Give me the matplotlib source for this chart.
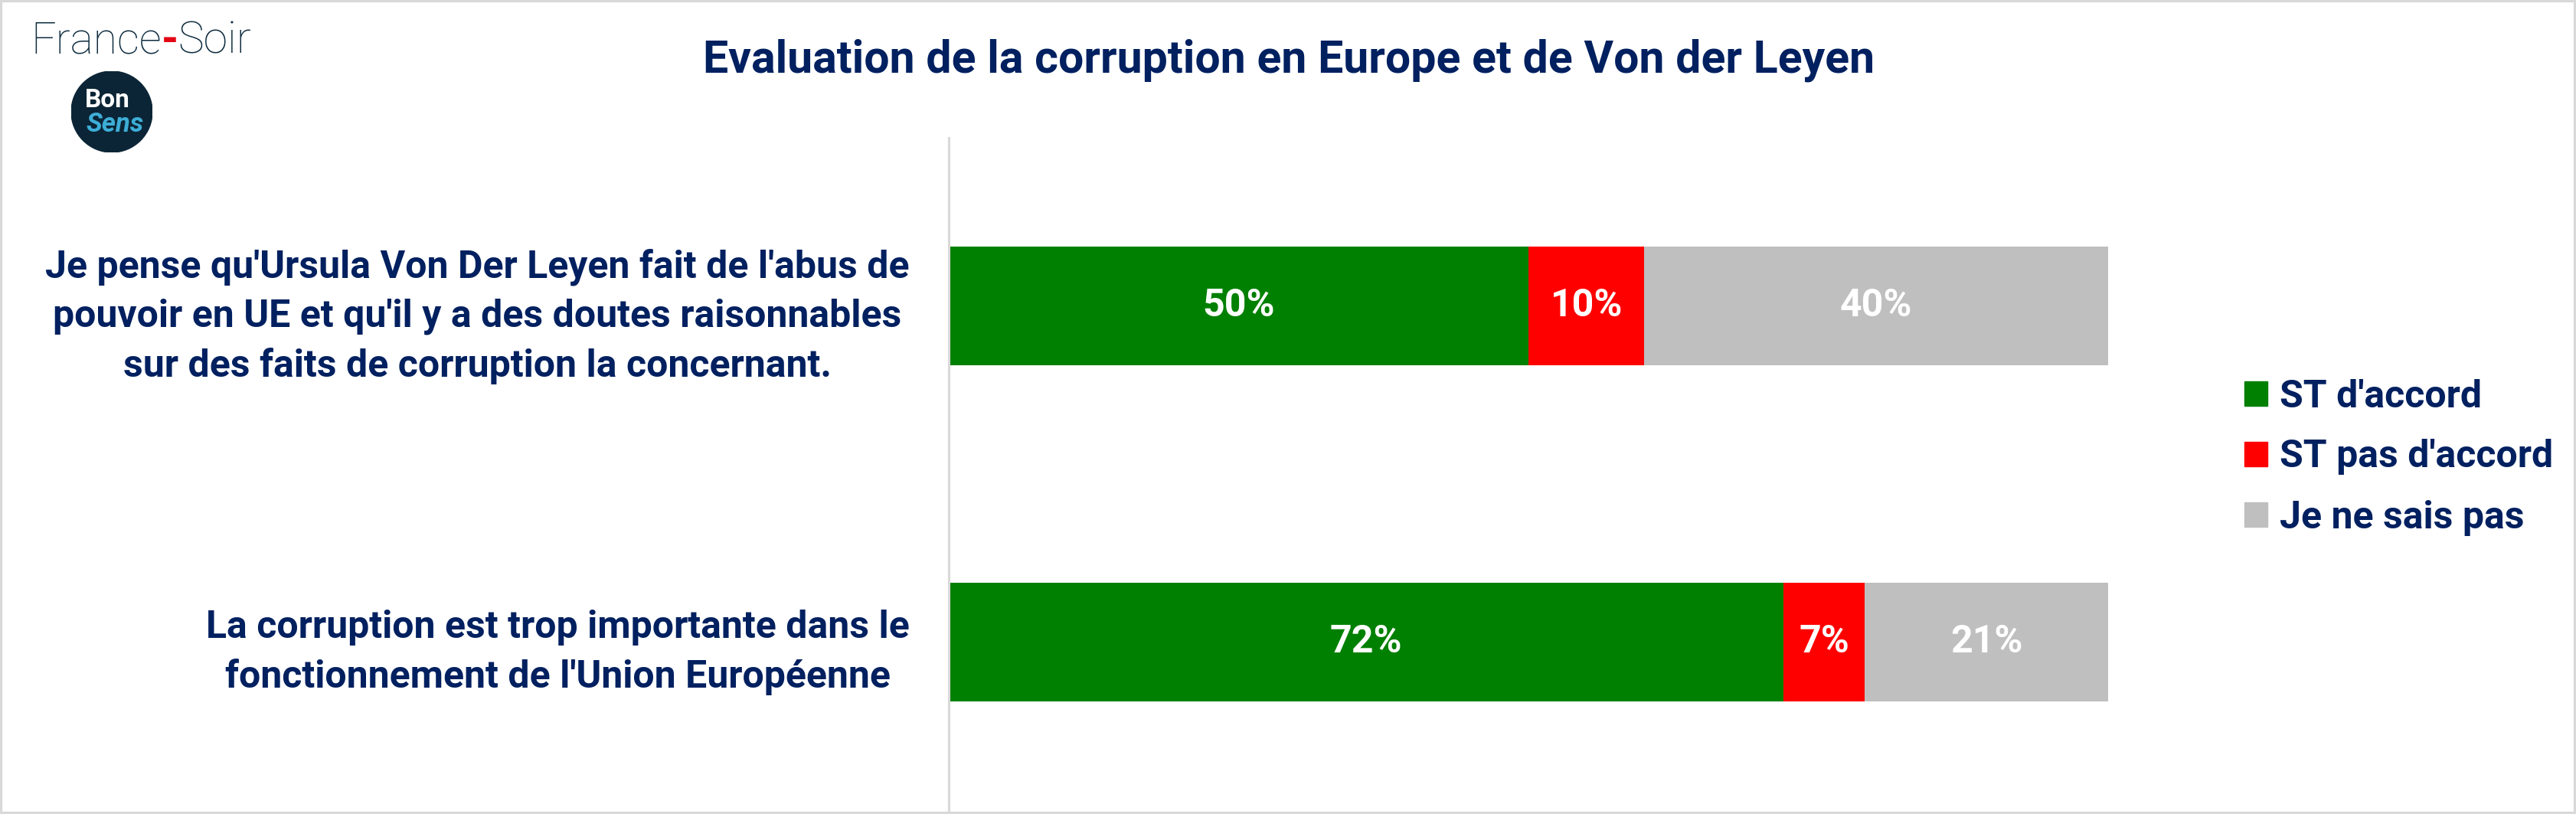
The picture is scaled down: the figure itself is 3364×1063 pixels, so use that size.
import matplotlib
matplotlib.use("Agg")
import matplotlib.pyplot as plt
from matplotlib.patches import Patch, Rectangle, Circle

# data
questions = [
    "Je pense qu'Ursula Von Der Leyen fait de l'abus de\npouvoir en UE et qu'il y a des doutes raisonnables\nsur des faits de corruption la concernant.",
    "La corruption est trop importante dans le\nfonctionnement de l'Union Européenne",
]
series = ["ST d'accord", "ST pas d'accord", "Je ne sais pas"]
agree = [0.50, 0.72]
disagree = [0.10, 0.07]
dont_know = [0.40, 0.21]

colors = ["#008000", "#FF0000", "#BFBFBF"]
navy = "#002060"
W, H = 3364, 1063

plt.rcParams["font.family"] = ["Roboto", "DejaVu Sans"]

fig = plt.figure(figsize=(W / 100, H / 100), dpi=100)
fig.patch.set_facecolor("white")

ax = fig.add_axes([1239 / W, 1 - 1058 / H, (2753 - 1239) / W, (1058 - 180) / H])

ypos = list(range(len(questions)))
left = [0.0] * len(questions)
for vals, col, name in zip([agree, disagree, dont_know], colors, series):
    bars = ax.barh(ypos, vals, left=left, height=0.353, color=col, label=name)
    for b, v in zip(bars, vals):
        ax.text(b.get_x() + b.get_width() / 2, b.get_y() + b.get_height() / 2,
                f"{v:.0%}", ha="center", va="center", color="white",
                fontsize=36, fontweight="bold")
    left = [l + v for l, v in zip(left, vals)]

ax.set_xlim(0, 1)
ax.set_ylim(1.5, -0.5)
ax.set_yticks(ypos)
ax.set_yticklabels(questions, fontsize=36, fontweight="bold", color=navy,
                   multialignment="center", linespacing=1.45)
ax.tick_params(axis="y", length=0, pad=37)
ax.xaxis.set_visible(False)
for s in ["top", "right", "bottom"]:
    ax.spines[s].set_visible(False)
ax.spines["left"].set_color("#d9d9d9")
ax.spines["left"].set_linewidth(2.2)

# title
fig.text(1683 / W, 1 - 79 / H, "Evaluation de la corruption en Europe et de Von der Leyen",
         ha="center", va="center", fontsize=42.5, fontweight="bold", color=navy)

# legend
handles = [Patch(color=c) for c in colors]
fig.legend(handles, series, loc="center left", bbox_to_anchor=(2931 / W, 1 - 597 / H),
           frameon=False, prop={"weight": "bold", "size": 36},
           labelcolor=navy, handlelength=0.6, handleheight=0.6,
           handletextpad=0.32, labelspacing=0.64, borderpad=0, borderaxespad=0)

# France-Soir logo
logo_font = ["Roboto", "DejaVu Sans"]
t1 = fig.text(40 / W, 1 - 69 / H, "France", fontsize=41, fontweight="light",
              color="#0d2b3e", family=logo_font, va="baseline")
t2 = ax.annotate("-", xy=(1, 0), xycoords=t1, ha="left", va="bottom",
                 fontsize=41, fontweight="bold", color="#e30613",
                 family=logo_font, annotation_clip=False)
ax.annotate("Soir", xy=(1, 0), xycoords=t2, ha="left", va="bottom",
            fontsize=41, fontweight="light", color="#0d2b3e",
            family=logo_font, annotation_clip=False)

lax = fig.add_axes([(146 - 53) / W, 1 - (146 + 53) / H, 106 / W, 106 / H])
lax.set_xlim(0, 1)
lax.set_ylim(0, 1)
lax.axis("off")
lax.add_patch(Circle((0.5, 0.5), 0.5, color="#0b2536"))
lax.text(0.45, 0.64, "Bon", ha="center", va="center", color="white",
         fontsize=24, fontweight="bold")
lax.text(0.54, 0.34, "Sens", ha="center", va="center", color="#3daed6",
         fontsize=25, fontstyle="italic", fontweight="bold")

# border
fig.add_artist(Rectangle((0, 0), 1, 1, transform=fig.transFigure, fill=False,
                         edgecolor="#d9d9d9", linewidth=4.5))

fig.savefig("out.png", dpi=100)
plt.close()
